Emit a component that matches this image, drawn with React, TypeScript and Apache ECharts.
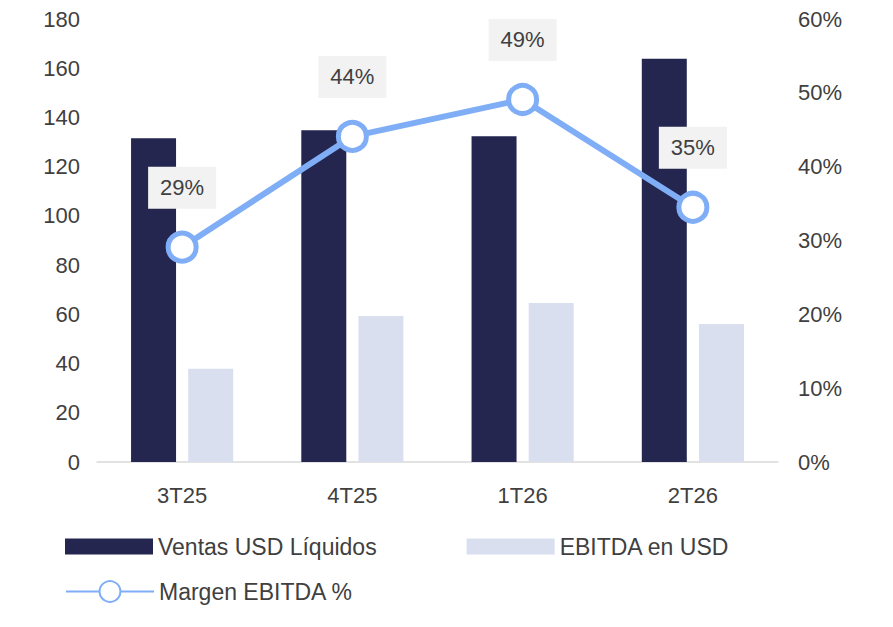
import * as echarts from 'echarts'
import { useEffect, useRef } from 'react'

const categories = ['3T25', '4T25', '1T26', '2T26']
const ventas = [131.5, 134.8, 132.4, 163.8]
const ebitda = [37.9, 59.3, 64.6, 56.1]
const margen = [29.1, 44.1, 49.1, 34.5]
const leftTicks = [0, 20, 40, 60, 80, 100, 120, 140, 160, 180]

const textColor = '#404040'
const font = 'Liberation Sans, Arial, sans-serif'

const App = () => {
  const chartRef = useRef<HTMLDivElement | null>(null)
  useEffect(() => {
    if (!chartRef.current) return
    const myChart = echarts.init(chartRef.current, null, { renderer: 'svg' })
    myChart.setOption({
      animation: false,
      textStyle: { fontFamily: font },
      grid: { left: 89, right: 107, top: 8, bottom: 157 },
      legend: [
        {
          data: ['Ventas USD Líquidos', 'EBITDA en USD'],
          icon: 'rect',
          left: 52, top: 522, itemWidth: 88, itemHeight: 16, itemGap: 90,
          textStyle: { color: textColor, fontSize: 23, fontFamily: font }
        },
        {
          data: ['Margen EBITDA %'],
          left: 52, top: 567, itemWidth: 88, itemHeight: 26,
          textStyle: { color: textColor, fontSize: 23, fontFamily: font }
        }
      ],
      xAxis: {
        type: 'category',
        data: categories,
        axisLine: { lineStyle: { color: '#d9d9d9', width: 1.5 } },
        axisTick: { show: false },
        axisLabel: { color: textColor, fontSize: 22, margin: 22 }
      },
      yAxis: [
        {
          type: 'value', min: leftTicks[0], max: leftTicks[leftTicks.length - 1], interval: 20,
          splitLine: { show: false },
          axisLabel: { color: textColor, fontSize: 22, margin: 17 }
        },
        {
          type: 'value', min: 0, max: 60, interval: 10,
          splitLine: { show: false },
          axisLabel: { color: textColor, fontSize: 22, margin: 20, formatter: '{value}%' }
        }
      ],
      series: [
        {
          name: 'Ventas USD Líquidos', type: 'bar', data: ventas, barWidth: 45, barGap: '27%',
          itemStyle: { color: '#24264f' }
        },
        {
          name: 'EBITDA en USD', type: 'bar', data: ebitda, barWidth: 45,
          itemStyle: { color: '#dadff0' }
        },
        {
          name: 'Margen EBITDA %', type: 'line', yAxisIndex: 1, data: margen,
          symbol: 'circle', symbolSize: 28,
          lineStyle: { color: '#7faef7', width: 6 },
          itemStyle: { color: '#ffffff', borderColor: '#7faef7', borderWidth: 5 },
          label: {
            show: true, position: 'top', distance: 22,
            formatter: (p: any) => Math.round(p.value) + '%',
            color: textColor, fontSize: 22, backgroundColor: '#f2f2f2',
            padding: [10, 12, 10, 12]
          }
        }
      ]
    })
    return () => myChart.dispose()
  }, [])
  return <div ref={chartRef} style={{ width: '877px', height: '611px' }}></div>
}

export default App
